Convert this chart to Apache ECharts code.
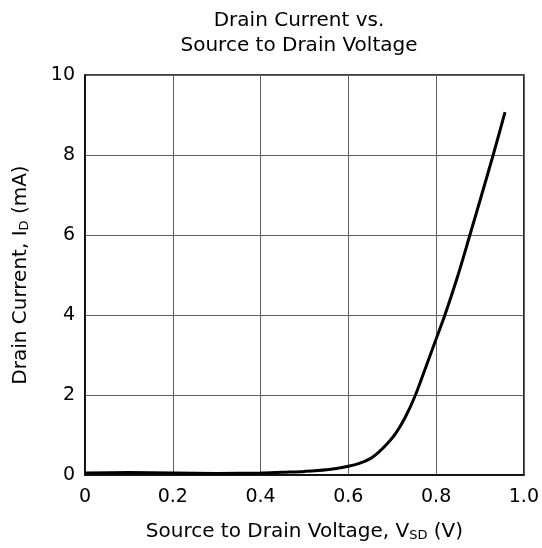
<!DOCTYPE html>
<html><head><meta charset="utf-8">
<script src="https://cdn.jsdelivr.net/npm/echarts@6/dist/echarts.min.js"></script>
<style>html,body{margin:0;padding:0;background:#fff}#c{width:542px;height:548px}</style>
</head><body><div id="c"></div>
<script>
const vsd = [0, 0.1, 0.2, 0.3, 0.4, 0.45, 0.5, 0.55, 0.6, 0.625, 0.65, 0.67, 0.69, 0.708, 0.73, 0.753, 0.775, 0.8, 0.82, 0.85, 0.877, 0.905, 0.93, 0.957];
const id  = [0.05, 0.06, 0.05, 0.04, 0.05, 0.07, 0.09, 0.13, 0.22, 0.29, 0.41, 0.58, 0.8, 1.04, 1.45, 2.0, 2.65, 3.4, 4.0, 5.0, 6.0, 7.05, 8.0, 9.07];
const xTicks = ['0', '0.2', '0.4', '0.6', '0.8', '1.0'];
const yTicks = ['0', '2', '4', '6', '8', '10'];

const FONT = '"DejaVu Sans", "Liberation Sans", Arial, sans-serif';
const chart = echarts.init(document.getElementById('c'));
chart.setOption({
  animation: false,
  title: {
    text: 'Drain Current vs.\nSource to Drain Voltage',
    left: 294, top: 3, textAlign: 'center',
    textStyle: { fontFamily: FONT, fontSize: 20, fontWeight: 'normal', color: '#000', lineHeight: 25 }
  },
  grid: { left: 85, right: 17, top: 75, bottom: 73, show: true, borderColor: '#000', borderWidth: 1.5 },
  xAxis: {
    type: 'value', min: 0, max: 1, interval: 0.2,
    name: '{n|Source to Drain Voltage, V}{s|SD}{n| (V)}',
    nameLocation: 'middle', nameGap: 46,
    nameTextStyle: { rich: {
      n: { fontFamily: FONT, fontSize: 20, color: '#000' },
      s: { fontFamily: FONT, fontSize: 13, color: '#000', verticalAlign: 'bottom', padding: [8, 0, 0, 0] }
    }},
    axisLine: { show: true, lineStyle: { color: '#000', width: 1.5 } },
    axisTick: { show: false },
    axisLabel: { fontFamily: FONT, fontSize: 19, color: '#000', margin: 13,
      formatter: v => xTicks[Math.round(v / 0.2)] },
    splitLine: { show: true, lineStyle: { color: '#606060', width: 1 } }
  },
  yAxis: {
    type: 'value', min: 0, max: 10, interval: 2,
    name: '{n|Drain Current, I}{s|D}{n| (mA)}',
    nameLocation: 'middle', nameGap: 54, nameRotate: 90,
    nameTextStyle: { rich: {
      n: { fontFamily: FONT, fontSize: 20, color: '#000' },
      s: { fontFamily: FONT, fontSize: 13, color: '#000', verticalAlign: 'bottom', padding: [8, 0, 0, 0] }
    }},
    axisLine: { show: true, lineStyle: { color: '#000', width: 1.5 } },
    axisTick: { show: false },
    axisLabel: { fontFamily: FONT, fontSize: 19, color: '#000', margin: 10,
      formatter: v => yTicks[Math.round(v / 2)] },
    splitLine: { show: true, lineStyle: { color: '#606060', width: 1 } }
  },
  series: [{
    type: 'line',
    data: vsd.map((v, i) => [v, id[i]]),
    smooth: 0.3,
    showSymbol: false,
    lineStyle: { color: '#000', width: 3 }
  }]
});
</script></body></html>
